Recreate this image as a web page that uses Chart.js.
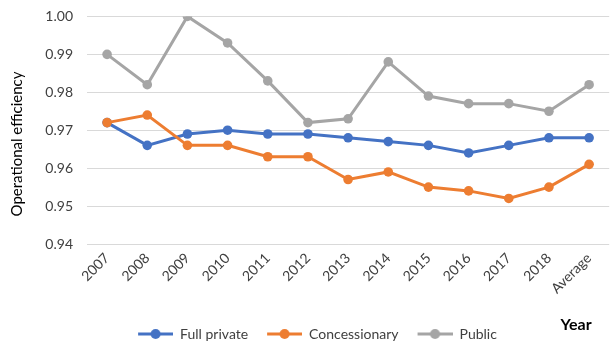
<!DOCTYPE html>
<html>
<head>
<meta charset="utf-8">
<script src="https://cdn.jsdelivr.net/npm/chart.js@4.4.1/dist/chart.umd.min.js"></script>
<style>
  html, body { margin: 0; padding: 0; background: #fff; overflow: hidden; }
  #wrap { width: 614px; height: 351px; margin-top: -6px; position: relative; }
</style>
</head>
<body>
<div id="wrap"><canvas id="efficiencyChart"></canvas></div>
<script>
// data
const years = ['2007', '2008', '2009', '2010', '2011', '2012', '2013', '2014', '2015', '2016', '2017', '2018', 'Average'];
const fullPrivate = [0.972, 0.966, 0.969, 0.970, 0.969, 0.969, 0.968, 0.967, 0.966, 0.964, 0.966, 0.968, 0.968];
const concessionary = [0.972, 0.974, 0.966, 0.966, 0.963, 0.963, 0.957, 0.959, 0.955, 0.954, 0.952, 0.955, 0.961];
const publicOps = [0.990, 0.982, 1.000, 0.993, 0.983, 0.972, 0.973, 0.988, 0.979, 0.977, 0.977, 0.975, 0.982];
const yTicks = [0.94, 0.95, 0.96, 0.97, 0.98, 0.99, 1.00];

const FONT = 'Lato, "Liberation Sans", sans-serif';

// little line + dot picture for the legend
function legendMarker(color) {
  const c = document.createElement('canvas');
  c.width = 50;
  c.height = 12;
  const g = c.getContext('2d');
  g.strokeStyle = color;
  g.lineWidth = 3;
  g.beginPath();
  g.moveTo(15, 6);
  g.lineTo(50, 6);
  g.stroke();
  g.fillStyle = color;
  g.beginPath();
  g.arc(32.5, 6, 5, 0, Math.PI * 2);
  g.fill();
  return c;
}

function makeSeries(label, data, color, order) {
  return {
    label: label,
    data: data,
    borderColor: color,
    backgroundColor: color,
    borderWidth: 3,
    pointRadius: 4.8,
    pointHoverRadius: 4.8,
    pointBorderWidth: 0,
    pointStyle: 'circle',
    tension: 0,
    order: order,
    legendMarker: legendMarker(color)
  };
}

// axis titles placed where the reference has them (canvas sits 6px higher than the page)
const axisTitles = {
  id: 'axisTitles',
  afterLayout(chart) {
    chart.legend.left += 6;
    chart.legend.top += 6;
    chart.legend.bottom += 6;
  },
  afterDraw(chart) {
    const ctx = chart.ctx;
    ctx.save();
    ctx.fillStyle = '#000';
    ctx.font = '15px ' + FONT;
    ctx.textAlign = 'center';
    ctx.textBaseline = 'middle';
    ctx.translate(17, 150);
    ctx.rotate(-Math.PI / 2);
    ctx.fillText('Operational efficiency', 0, 0);
    ctx.restore();

    ctx.save();
    ctx.fillStyle = '#000';
    ctx.font = 'bold 16px ' + FONT;
    ctx.textAlign = 'center';
    ctx.textBaseline = 'middle';
    ctx.fillText('Year', 576, 331);
    ctx.restore();
  }
};

const ctx = document.getElementById('efficiencyChart').getContext('2d');
const efficiencyChart = new Chart(ctx, {
  type: 'line',
  data: {
    labels: years,
    datasets: [
      makeSeries('Full private', fullPrivate, '#4472C4', 2),
      makeSeries('Concessionary', concessionary, '#ED7D31', 1),
      makeSeries('Public', publicOps, '#A5A5A5', 0)
    ]
  },
  options: {
    responsive: true,
    maintainAspectRatio: false,
    animation: false,
    layout: { padding: { top: 2, right: 0, bottom: 0, left: 0 } },
    plugins: {
      tooltip: { enabled: false },
      legend: {
        position: 'bottom',
        labels: {
          usePointStyle: true,
          pointStyleWidth: 50,
          padding: 4,
          color: '#404040',
          font: { family: FONT, size: 14 },
          generateLabels(chart) {
            return chart.data.datasets.map((ds, i) => ({
              text: ds.label,
              fillStyle: ds.borderColor,
              strokeStyle: ds.borderColor,
              lineWidth: 0,
              pointStyle: ds.legendMarker,
              fontColor: '#404040',
              hidden: false,
              datasetIndex: i
            }));
          }
        }
      }
    },
    scales: {
      x: {
        offset: true,
        grid: { display: false, drawTicks: false },
        border: { display: false },
        ticks: {
          color: '#404040',
          font: { family: FONT, size: 14 },
          minRotation: 45,
          maxRotation: 45,
          padding: 6,
          autoSkip: false
        },
        afterFit(scale) { scale.height = 73; }
      },
      y: {
        min: yTicks[0],
        max: yTicks[yTicks.length - 1],
        afterBuildTicks(scale) {
          scale.ticks = yTicks.map(v => ({ value: v }));
        },
        grid: { color: '#D9D9D9', lineWidth: 1, drawTicks: false },
        border: { display: false },
        ticks: {
          color: '#404040',
          font: { family: FONT, size: 14 },
          padding: 14,
          callback: v => Number(v).toFixed(2)
        },
        afterFit(scale) { scale.width = 87; }
      }
    }
  },
  plugins: [axisTitles]
});
</script>
</body>
</html>
